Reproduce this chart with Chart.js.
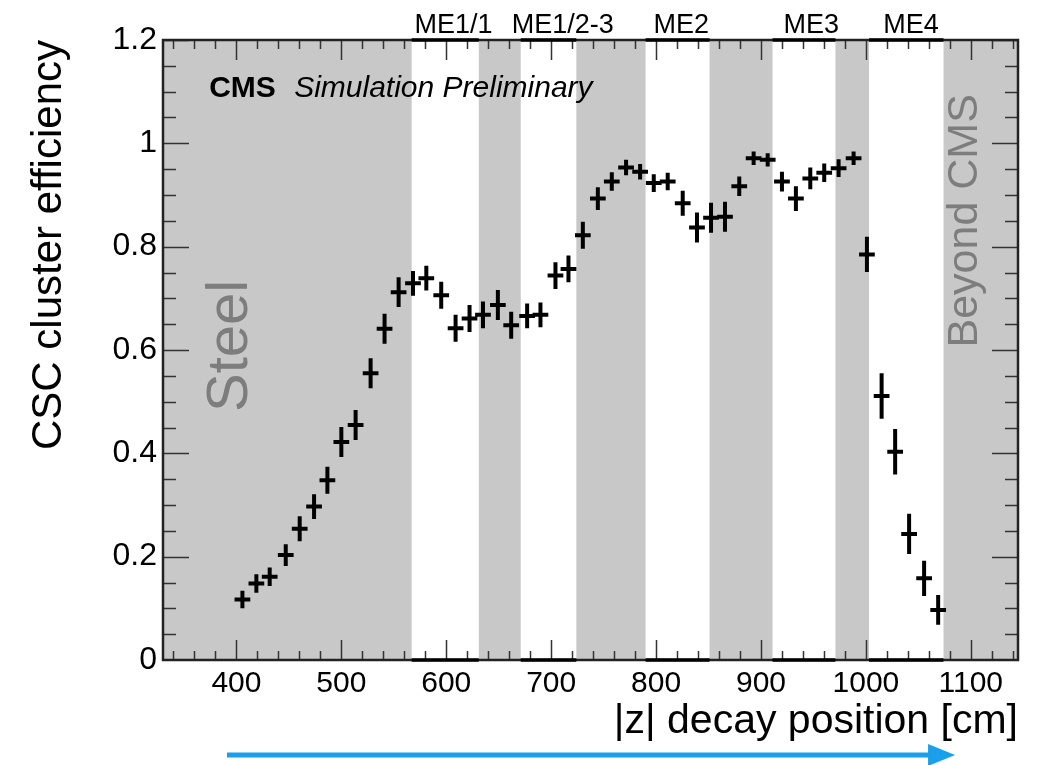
<!DOCTYPE html>
<html>
<head>
<meta charset="utf-8">
<script src="https://cdn.jsdelivr.net/npm/chart.js@4.4.0/dist/chart.umd.min.js"></script>
<style>
  html, body { margin: 0; padding: 0; background: #fff; }
  #wrap { width: 1045px; height: 765px; }
</style>
</head>
<body>
<div id="wrap"><canvas id="effChart" width="1045" height="765"></canvas></div>
<script>
/* ---- data: CSC cluster efficiency vs |z| of the decay ---- */
const zPos = [405.7, 419.0, 431.7, 447.0, 460.3, 474.0, 486.7, 500.0, 513.6, 527.9,
              541.2, 554.6, 568.3, 581.0, 595.2, 608.9, 622.2, 635.0, 649.2, 661.9,
              677.1, 689.8, 704.1, 716.5, 730.2, 744.5, 757.8, 771.4, 784.8, 797.8,
              811.1, 825.4, 839.0, 852.4, 865.7, 879.3, 893.0, 906.4, 920.0, 933.3,
              947.0, 960.3, 974.0, 988.3, 1001.0, 1015.0, 1027.9, 1041.2, 1055.5, 1068.9];
const eff = [0.117, 0.148, 0.161, 0.203, 0.254, 0.297, 0.348, 0.422, 0.455, 0.555,
             0.641, 0.712, 0.729, 0.739, 0.706, 0.642, 0.661, 0.668, 0.687, 0.648,
             0.666, 0.668, 0.744, 0.757, 0.822, 0.893, 0.926, 0.953, 0.945, 0.923,
             0.926, 0.884, 0.837, 0.856, 0.858, 0.917, 0.971, 0.968, 0.926, 0.893,
             0.932, 0.943, 0.952, 0.971, 0.785, 0.511, 0.403, 0.244, 0.158, 0.097];
const effErr = [0.017, 0.018, 0.018, 0.021, 0.024, 0.024, 0.026, 0.029, 0.029, 0.029,
                0.029, 0.029, 0.024, 0.024, 0.026, 0.026, 0.026, 0.026, 0.029, 0.026,
                0.024, 0.024, 0.026, 0.026, 0.026, 0.022, 0.018, 0.015, 0.015, 0.017,
                0.017, 0.024, 0.029, 0.029, 0.029, 0.019, 0.013, 0.013, 0.019, 0.024,
                0.021, 0.018, 0.017, 0.013, 0.034, 0.044, 0.044, 0.039, 0.034, 0.029];
const zHalfWidth = 7.5;

const xTickVals = [400, 500, 600, 700, 800, 900, 1000, 1100];
const yTickVals = [0, 0.2, 0.4, 0.6, 0.8, 1, 1.2];

// grey shaded regions (steel, yokes, beyond CMS)
const bandStart = [330, 631, 724, 851, 971, 1074];
const bandEnd = [567, 671, 790, 911, 1003, 1145];

const stationNames = ['ME1/1', 'ME1/2-3', 'ME2', 'ME3', 'ME4'];
const stationPos = [607, 711, 824, 948, 1043];

const FONT = "'Liberation Sans', Arial, Helvetica, sans-serif";

/* ---- helpers ---- */
function rotatedText(ctx, text, px, py, size, color) {
    ctx.save();
    ctx.translate(px, py);
    ctx.rotate(-Math.PI / 2);
    ctx.font = size + 'px ' + FONT;
    ctx.fillStyle = color;
    ctx.textAlign = 'center';
    ctx.textBaseline = 'middle';
    ctx.fillText(text, 0, 0);
    ctx.restore();
}

const decor = {
    id: 'decor',
    beforeDatasetsDraw(chart) {
        const { ctx, chartArea: a, scales: { x, y } } = chart;
        ctx.save();
        ctx.beginPath();
        ctx.rect(a.left, a.top, a.right - a.left, a.bottom - a.top);
        ctx.clip();

        // shaded regions
        ctx.fillStyle = '#c8c8c8';
        bandStart.forEach((s, i) => {
            const x0 = x.getPixelForValue(s);
            const x1 = x.getPixelForValue(bandEnd[i]);
            ctx.fillRect(x0, a.top, x1 - x0, a.bottom - a.top);
        });

        // region labels
        rotatedText(ctx, 'Steel', x.getPixelForValue(395), y.getPixelForValue(0.608), 58, '#7d7d7d');
        rotatedText(ctx, 'Beyond CMS', x.getPixelForValue(1095), y.getPixelForValue(0.85), 43, '#7d7d7d');

        // CMS label
        ctx.fillStyle = '#000';
        ctx.textAlign = 'left';
        ctx.textBaseline = 'alphabetic';
        ctx.font = 'bold 30px ' + FONT;
        ctx.fillText('CMS', x.getPixelForValue(374), y.getPixelForValue(1.09));
        ctx.font = 'italic 30px ' + FONT;
        ctx.fillText('Simulation Preliminary', x.getPixelForValue(455), y.getPixelForValue(1.09));

        // tick marks on all four sides, pointing inwards
        ctx.strokeStyle = '#333';
        ctx.lineWidth = 1.5;
        ctx.beginPath();
        const xMinorStart = Math.ceil(x.min / 20) * 20;
        for (let v = xMinorStart; v <= x.max; v += 20) {
            const px = Math.round(x.getPixelForValue(v)) + 0.5;
            const len = v % 100 === 0 ? 20 : 9;
            ctx.moveTo(px, a.bottom); ctx.lineTo(px, a.bottom - len);
            ctx.moveTo(px, a.top); ctx.lineTo(px, a.top + len);
        }
        for (let k = 0; k <= 24; k++) {
            const v = k * 0.05;
            const py = Math.round(y.getPixelForValue(v)) + 0.5;
            const len = k % 4 === 0 ? 26 : 13;
            ctx.moveTo(a.left, py); ctx.lineTo(a.left + len, py);
            ctx.moveTo(a.right, py); ctx.lineTo(a.right - len, py);
        }
        ctx.stroke();
        ctx.restore();

        // frame
        ctx.save();
        ctx.strokeStyle = '#222';
        ctx.lineWidth = 2.5;
        ctx.strokeRect(a.left, a.top, a.right - a.left, a.bottom - a.top);
        // darker frame over the chamber (white) regions
        ctx.strokeStyle = '#000';
        ctx.lineWidth = 3.5;
        ctx.beginPath();
        for (let i = 0; i < bandStart.length - 1; i++) {
            const x0 = x.getPixelForValue(bandEnd[i]);
            const x1 = x.getPixelForValue(bandStart[i + 1]);
            ctx.moveTo(x0, a.top); ctx.lineTo(x1, a.top);
            ctx.moveTo(x0, a.bottom); ctx.lineTo(x1, a.bottom);
        }
        ctx.stroke();
        ctx.restore();
    },
    afterDatasetsDraw(chart) {
        const { ctx, scales: { x, y } } = chart;
        ctx.save();
        ctx.strokeStyle = '#000';
        ctx.lineWidth = 4;
        ctx.beginPath();
        zPos.forEach((z, i) => {
            const px = x.getPixelForValue(z);
            const py = y.getPixelForValue(eff[i]);
            ctx.moveTo(x.getPixelForValue(z - zHalfWidth), py);
            ctx.lineTo(x.getPixelForValue(z + zHalfWidth), py);
            ctx.moveTo(px, y.getPixelForValue(eff[i] + effErr[i]));
            ctx.lineTo(px, y.getPixelForValue(eff[i] - effErr[i]));
        });
        ctx.stroke();
        ctx.restore();
    },
    afterDraw(chart) {
        const { ctx, chartArea: a, scales: { x } } = chart;
        ctx.save();
        // station names above the frame
        ctx.fillStyle = '#000';
        ctx.font = '27px ' + FONT;
        ctx.textAlign = 'center';
        ctx.textBaseline = 'alphabetic';
        stationNames.forEach((n, i) => ctx.fillText(n, x.getPixelForValue(stationPos[i]), a.top - 7));

        // blue direction arrow
        const x0 = x.getPixelForValue(391);
        const x1 = x.getPixelForValue(1085);
        const ay = a.bottom + 95;
        ctx.strokeStyle = '#1aa0ea';
        ctx.fillStyle = '#1aa0ea';
        ctx.lineWidth = 5;
        ctx.beginPath();
        ctx.moveTo(x0, ay); ctx.lineTo(x1 - 20, ay);
        ctx.stroke();
        ctx.beginPath();
        ctx.moveTo(x1, ay);
        ctx.lineTo(x1 - 27, ay - 11);
        ctx.lineTo(x1 - 27, ay + 11);
        ctx.closePath();
        ctx.fill();
        ctx.restore();
    }
};

new Chart(document.getElementById('effChart'), {
    type: 'scatter',
    data: {
        datasets: [{
            label: 'CSC cluster efficiency',
            data: zPos.map((z, i) => ({ x: z, y: eff[i] })),
            pointRadius: 0,
            showLine: false,
        }]
    },
    options: {
        responsive: false,
        animation: false,
        devicePixelRatio: 1,
        layout: { padding: { top: 40, right: 27, left: 0, bottom: 0 } },
        plugins: {
            legend: { display: false },
            tooltip: { enabled: false },
        },
        scales: {
            x: {
                type: 'linear',
                min: 330,
                max: 1145,
                afterBuildTicks: s => { s.ticks = xTickVals.map(v => ({ value: v })); },
                afterFit: s => { s.height = 105; },
                grid: { display: false, drawTicks: false },
                border: { display: false },
                ticks: {
                    padding: 6,
                    color: '#000',
                    autoSkip: false,
                    maxRotation: 0,
                    font: { family: FONT, size: 30 },
                    callback: v => String(v),
                },
                title: {
                    display: true,
                    text: '|z| decay position [cm]',
                    align: 'end',
                    color: '#000',
                    font: { family: FONT, size: 41 },
                    padding: { top: 0, bottom: 19 },
                },
            },
            y: {
                min: 0,
                max: 1.2,
                afterBuildTicks: s => { s.ticks = yTickVals.map(v => ({ value: v })); },
                afterFit: s => { s.width = 163; },
                grid: { display: false, drawTicks: false },
                border: { display: false },
                ticks: {
                    padding: 6,
                    color: '#000',
                    font: { family: FONT, size: 32 },
                    callback: v => String(+v.toFixed(1)),
                },
                title: {
                    display: true,
                    text: 'CSC cluster efficiency',
                    align: 'end',
                    color: '#000',
                    font: { family: FONT, size: 42 },
                    padding: { top: 24, bottom: 0 },
                },
            }
        }
    },
    plugins: [decor],
});
</script>
</body>
</html>
